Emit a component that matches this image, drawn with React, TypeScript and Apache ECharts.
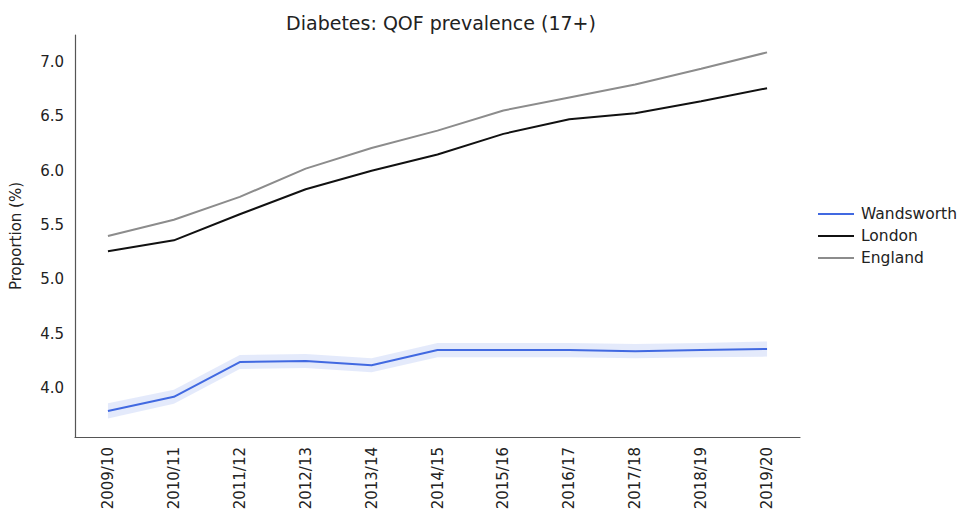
import React, { useEffect, useRef } from "react";
import * as echarts from "echarts";

const categories = ["2009/10", "2010/11", "2011/12", "2012/13", "2013/14", "2014/15", "2015/16", "2016/17", "2017/18", "2018/19", "2019/20"];
const wandsworth = [3.79, 3.92, 4.24, 4.25, 4.21, 4.35, 4.35, 4.35, 4.34, 4.35, 4.36];
const wandsworthLower = [3.72, 3.855, 4.175, 4.185, 4.145, 4.285, 4.285, 4.285, 4.275, 4.285, 4.29];
const wandsworthUpper = [3.86, 3.985, 4.305, 4.315, 4.275, 4.415, 4.415, 4.415, 4.405, 4.415, 4.43];
const london = [5.26, 5.36, 5.6, 5.83, 6.0, 6.15, 6.34, 6.475, 6.53, 6.64, 6.76];
const england = [5.4, 5.55, 5.76, 6.02, 6.21, 6.37, 6.555, 6.675, 6.795, 6.94, 7.09];
const yTicks = [4.0, 4.5, 5.0, 5.5, 6.0, 6.5, 7.0];

const FONT = "DejaVu Sans";
const BLUE = "#4169e1";

export default function App() {
  const ref = useRef<HTMLDivElement>(null);
  useEffect(() => {
    if (!ref.current) return;
    const chart = echarts.init(ref.current, null, { renderer: "svg" });
    const bandDiff = wandsworthUpper.map((u, i) => +(u - wandsworthLower[i]).toFixed(4));
    chart.setOption({
      animation: false,
      backgroundColor: "#ffffff",
      title: {
        text: "Diabetes: QOF prevalence (17+)",
        left: 436,
        textAlign: "center",
        top: 8,
        textStyle: { fontFamily: FONT, fontSize: 19, fontWeight: "normal", color: "#222" },
      },
      legend: {
        orient: "vertical",
        left: 813,
        top: 201,
        data: ["Wandsworth", "London", "England"],
        itemWidth: 36,
        itemHeight: 14,
        itemGap: 6,
        icon: "path://M0,0 L36,0 L36,2 L0,2 Z",
        textStyle: { fontFamily: FONT, fontSize: 15.5, color: "#222", padding: [0, 0, 0, 2] },
      },
      grid: { left: 72, right: 163, top: 35, bottom: 76, containLabel: false },
      xAxis: {
        type: "category",
        data: categories,
        boundaryGap: true,
        axisLine: { lineStyle: { color: "#555", width: 1.2 } },
        axisTick: { show: false },
        axisLabel: { rotate: 90, fontFamily: FONT, fontSize: 15, color: "#222", margin: 10, interval: 0 },
        splitLine: { show: false },
      },
      yAxis: {
        type: "value",
        min: 3.55,
        max: 7.25,
        name: "Proportion (%)",
        nameLocation: "middle",
        nameGap: 52,
        nameTextStyle: { fontFamily: FONT, fontSize: 15, color: "#222" },
        axisLine: { show: true, lineStyle: { color: "#555", width: 1.2 } },
        axisTick: { show: false },
        axisLabel: {
          customValues: yTicks,
          formatter: (v: number) => v.toFixed(1),
          fontFamily: FONT,
          fontSize: 15,
          color: "#222",
          margin: 11,
        },
        splitLine: { show: false },
      },
      series: [
        {
          name: "band-lower",
          type: "line",
          data: wandsworthLower,
          stack: "ci",
          symbol: "none",
          lineStyle: { opacity: 0 },
          silent: true,
        },
        {
          name: "band",
          type: "line",
          data: bandDiff,
          stack: "ci",
          symbol: "none",
          lineStyle: { opacity: 0 },
          areaStyle: { color: "rgba(65,105,225,0.2)" },
          silent: true,
        },
        {
          name: "Wandsworth",
          type: "line",
          data: wandsworth,
          symbol: "none",
          color: BLUE,
          lineStyle: { color: BLUE, width: 2 },
        },
        {
          name: "London",
          type: "line",
          data: london,
          symbol: "none",
          color: "#111111",
          lineStyle: { color: "#111111", width: 2 },
        },
        {
          name: "England",
          type: "line",
          data: england,
          symbol: "none",
          color: "#8c8c8c",
          lineStyle: { color: "#8c8c8c", width: 2 },
        },
      ],
    });
    return () => chart.dispose();
  }, []);
  return <div ref={ref} style={{ width: 963, height: 513, position: "absolute", left: 0, top: 0 }} />;
}
